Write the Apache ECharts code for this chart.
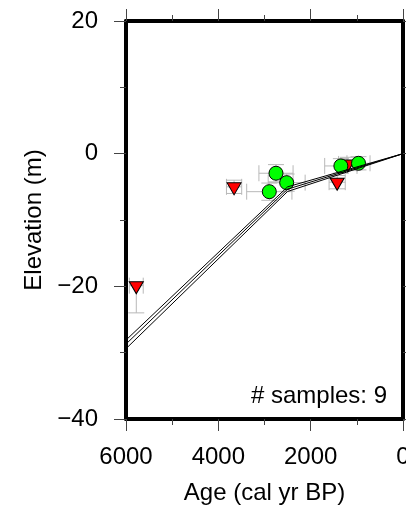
<!DOCTYPE html>
<html><head><meta charset="utf-8">
<script src="https://cdn.jsdelivr.net/npm/echarts@6/dist/echarts.min.js"></script>
<style>html,body{margin:0;padding:0;background:#fff}#c{width:406px;height:515px}</style>
</head><body><div id="c"></div>
<script>
// ---- data ----
const xTicks = [0, 2000, 4000, 6000];
const yTicks = [-40, -20, 0, 20];
const greenAge = [2751, 2520, 2896, 1346, 964];
const greenElev = [-2.95, -4.37, -5.73, -1.85, -1.45];
const greenAgeErr = [370, 400, 490, 350, 250];
const greenElevErr = [1.3, 1.3, 1.3, 1.1, 1.0];
const redAge = [3659, 1426, 1195, 5777];
const redElev = [-5.0, -4.3, -1.55, -19.9];
const redAgeErr = [165, 175, 200, 150];
const redElevErrLow = [1.0, 1.0, 1.0, 4.1];
const redElevErrHigh = [1.0, 1.0, 1.0, 0];
const modelAge = [6000, 2500, 0];
const modelUpper = [-28.1, -5.0, 0];
const modelMid = [-28.7, -5.35, 0];
const modelLower = [-29.4, -5.7, 0];
const sampleLabel = '# samples: 9';
const xName = 'Age (cal yr BP)';
const yName = 'Elevation (m)';

// ---- build ----
const FONT = 'Liberation Sans, Arial, Helvetica, sans-serif';
const errData = [];
greenAge.forEach((a, i) => errData.push([a, greenElev[i], greenAgeErr[i], greenElevErr[i], greenElevErr[i]]));
redAge.forEach((a, i) => errData.push([a, redElev[i], redAgeErr[i], redElevErrLow[i], redElevErrHigh[i]]));

function renderErr(params, api) {
  const a = api.value(0), e = api.value(1), ax = api.value(2), lo = api.value(3), hi = api.value(4);
  const c = api.coord([a, e]);
  const l = api.coord([a + ax, e]);
  const r = api.coord([a - ax, e]);
  const b = api.coord([a, e - lo]);
  const t = api.coord([a, e + hi]);
  const cap = 8;
  const st = { stroke: '#b8b8b8', lineWidth: 1 };
  const ch = [];
  const ln = (x1, y1, x2, y2) => ch.push({ type: 'line', shape: { x1, y1, x2, y2 }, style: st });
  ln(l[0], c[1], r[0], c[1]);
  ln(l[0], c[1] - cap, l[0], c[1] + cap);
  ln(r[0], c[1] - cap, r[0], c[1] + cap);
  if (lo > 0 || hi > 0) {
    ln(c[0], b[1], c[0], t[1]);
    if (lo > 0) ln(c[0] - cap, b[1], c[0] + cap, b[1]);
    if (hi > 0) ln(c[0] - cap, t[1], c[0] + cap, t[1]);
  }
  return { type: 'group', children: ch };
}

const minus = v => String(v).replace('-', '\u2212');
const frame = { show: true, onZero: false, lineStyle: { color: '#000', width: 4 } };
const tick = { show: true, length: 12, lineStyle: { color: '#444', width: 1 } };
const minor = { show: true, splitNumber: 2, length: 6, lineStyle: { color: '#444', width: 1 } };
const lbl = { show: true, fontSize: 24, color: '#000', fontFamily: FONT, formatter: minus, showMinLabel: true, showMaxLabel: true, hideOverlap: false };

const chart = echarts.init(document.getElementById('c'), null, { renderer: 'canvas' });
const lineStyle = { color: '#000', width: 1 };
const mk = arr => modelAge.map((a, i) => [a, arr[i]]);

chart.setOption({
  animation: false,
  backgroundColor: '#fff',
  grid: { left: 126, right: 3, top: 21, bottom: 96, containLabel: false, outerBoundsMode: 'none' },
  xAxis: [
    { type: 'value', min: xTicks[0], max: xTicks[xTicks.length - 1], interval: 2000, inverse: true, position: 'bottom',
      axisLine: frame, axisTick: tick, minorTick: minor, splitLine: { show: false },
      axisLabel: Object.assign({}, lbl, { margin: 26 }),
      name: xName, nameLocation: 'middle', nameGap: 62,
      nameTextStyle: { fontSize: 24, color: '#000', fontFamily: FONT } },
    { type: 'value', min: xTicks[0], max: xTicks[xTicks.length - 1], interval: 2000, inverse: true, position: 'top',
      axisLine: frame, axisTick: tick, minorTick: minor, splitLine: { show: false }, axisLabel: { show: false } }
  ],
  yAxis: [
    { type: 'value', min: yTicks[0], max: yTicks[yTicks.length - 1], interval: 20, position: 'left',
      axisLine: frame, axisTick: tick, minorTick: minor, splitLine: { show: false },
      axisLabel: Object.assign({}, lbl, { margin: 28 }),
      name: yName, nameLocation: 'middle', nameGap: 80,
      nameTextStyle: { fontSize: 24, color: '#000', fontFamily: FONT } },
    { type: 'value', min: yTicks[0], max: yTicks[yTicks.length - 1], interval: 20, position: 'right',
      axisLine: frame, axisTick: tick, minorTick: minor, splitLine: { show: false }, axisLabel: { show: false } }
  ],
  series: [
    { type: 'custom', renderItem: renderErr, data: errData, encode: { x: 0, y: 1 }, z: 1, silent: true, clip: true },
    { type: 'scatter', data: redAge.map((a, i) => [a, redElev[i]]), symbol: 'triangle', symbolRotate: 180,
      symbolSize: [14, 12], symbolOffset: [0, 2], z: 2,
      itemStyle: { color: '#ff0000', borderColor: '#000', borderWidth: 1, opacity: 1 } },
    { type: 'scatter', data: greenAge.map((a, i) => [a, greenElev[i]]), symbol: 'circle', symbolSize: 14, z: 3,
      itemStyle: { color: '#00ff00', borderColor: '#000', borderWidth: 1, opacity: 1 } },
    { type: 'line', data: mk(modelUpper), showSymbol: false, symbol: 'none', lineStyle, z: 4, silent: true },
    { type: 'line', data: mk(modelMid), showSymbol: false, symbol: 'none', lineStyle, z: 4, silent: true },
    { type: 'line', data: mk(modelLower), showSymbol: false, symbol: 'none', lineStyle, z: 4, silent: true }
  ],
  graphic: [
    { type: 'text', right: 19, top: 384, z: 10,
      style: { text: sampleLabel, fontSize: 24, fill: '#000', fontFamily: FONT } }
  ]
});
</script></body></html>
